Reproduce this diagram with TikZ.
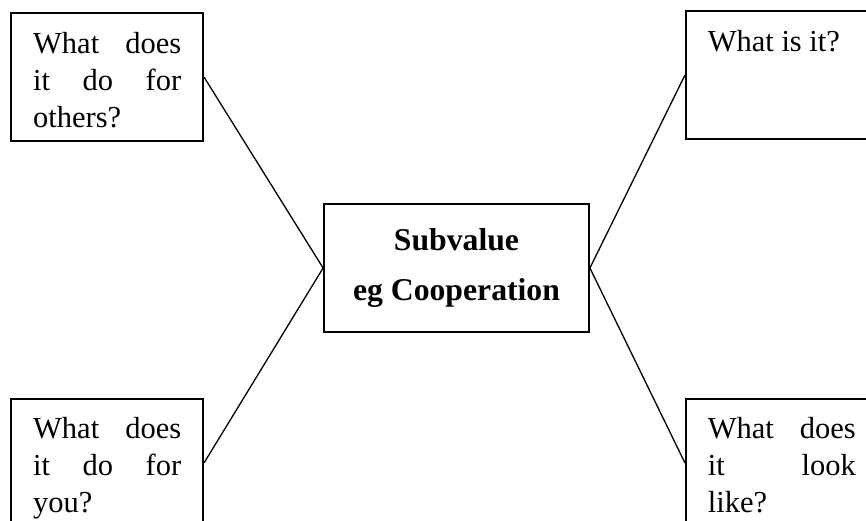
\documentclass[tikz,border=0pt]{standalone}
\usepackage{fontspec}
\setmainfont{Liberation Serif}
\usetikzlibrary{positioning}

\newcommand{\qtext}[1]{\parbox[c][128pt][t]{148pt}{\vspace*{19pt}#1}}

\tikzset{
  value/.style={draw, line width=1.8pt, minimum width=265pt, minimum height=128pt,
    align=center, font=\fontsize{31.7}{50}\selectfont\bfseries},
  question/.style={draw, line width=1.8pt, inner xsep=22pt, inner ysep=0pt,
    font=\fontsize{30.5}{37}\selectfont},
  link/.style={line width=1.3pt}
}

\begin{document}
\begin{tikzpicture}[x=1pt,y=-1pt]
  \useasboundingbox (0,0) rectangle (866,520);
  \clip (0,0) rectangle (866,520);

  \node[value] (sub) at (456.5,268) {Subvalue\\eg Cooperation};

  \node[question, above left = 61pt and 119pt of sub] (others)
    {\qtext{What does\linebreak it do for\linebreak others?}};
  \node[question, above right = 63pt and 95pt of sub] (what)
    {\qtext{What is it?}};
  \node[question, below left = 65pt and 119pt of sub] (you)
    {\qtext{What does\linebreak it do for\linebreak you?}};
  \node[question, below right = 65pt and 95pt of sub] (like)
    {\qtext{What does\linebreak it look\linebreak like?}};

  \draw[link] (others.east) -- (sub.west) -- (you.east);
  \draw[link] (what.west) -- (sub.east) -- (like.west);
\end{tikzpicture}
\end{document}
